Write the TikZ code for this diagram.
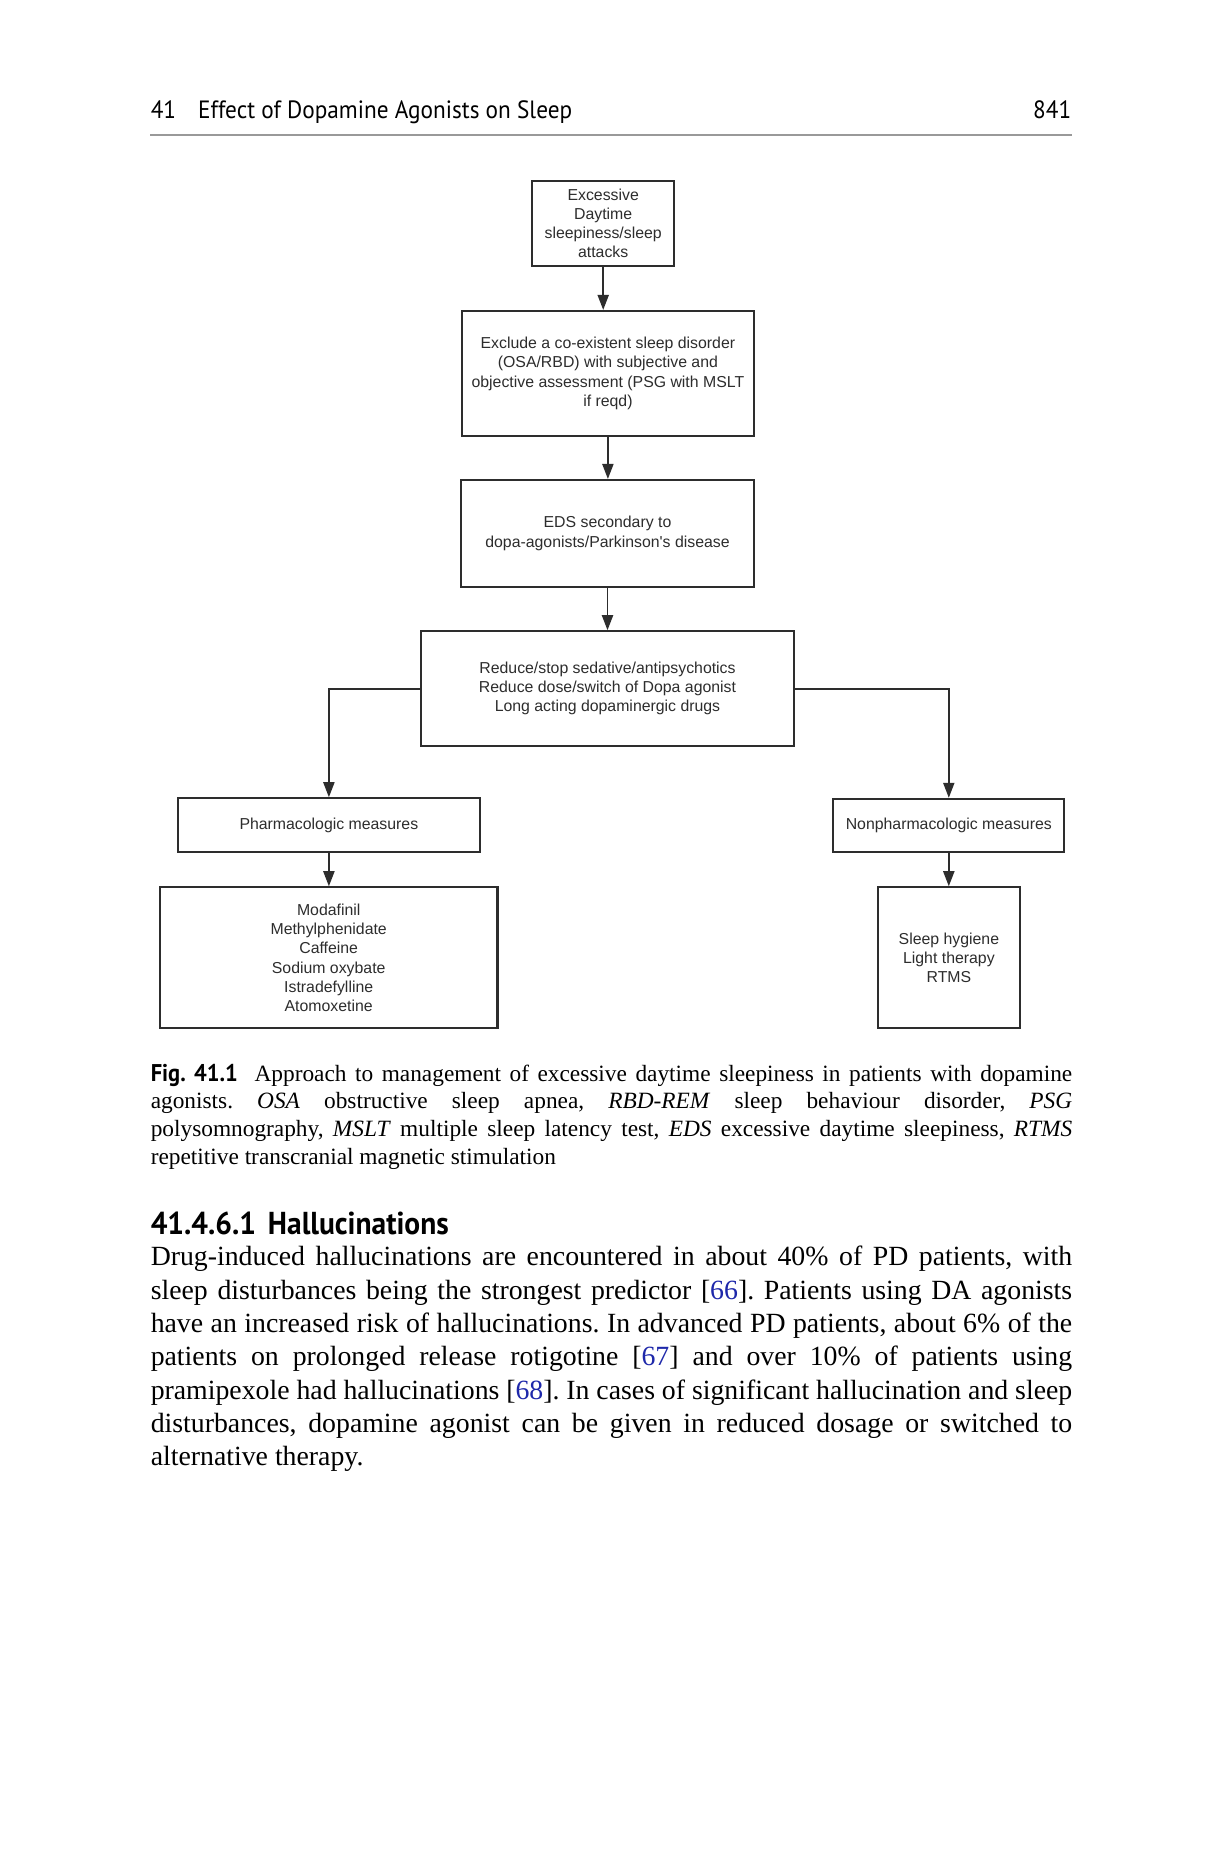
\documentclass[tikz,border=0pt]{standalone}
\usepackage{fontspec}
\setmainfont{Liberation Serif}
\newfontfamily\chartfont{Liberation Sans}
\newfontfamily\pagefont{PT Sans}[FakeStretch=0.93]
\usetikzlibrary{arrows.meta}
\definecolor{linkblue}{RGB}{30,40,170}
\definecolor{boxgray}{RGB}{45,45,45}
\frenchspacing

\begin{document}
\begin{tikzpicture}[x=0.35985pt,y=-0.35985pt]
\tikzstyle{every node}+=[inner sep=0pt]
\tikzstyle{box}=[draw=boxgray,line width=0.8pt,text=boxgray,align=center,font=\chartfont\fontsize{5.7}{6.9}\selectfont]
\tikzstyle{link}=[draw=boxgray,line width=0.6pt,-{Triangle[length=5.4pt,width=4pt]}]
\tikzstyle{para}=[anchor=base west,text width=331.6pt,align=justify]
\useasboundingbox[fill=white] (0,0) rectangle (1221,1851);
% running head
\node[anchor=base west,font=\pagefont\fontsize{9}{11}\selectfont] (chap) at (150.2,118.3) {41};
\node[anchor=base west,font=\pagefont\fontsize{9}{11}\selectfont] (runhead) at (197.6,118.3) {Effect of Dopamine Agonists on Sleep};
\node[anchor=base east,font=\pagefont\fontsize{9}{11}\selectfont] (pageno) at (1071.8,118.3) {841};
\draw[black!40,line width=1pt] (150.2,134.9) -- (1071.8,134.9);
% flow chart
\node[box,minimum width=51pt,minimum height=30.6pt] (eds) at (603.2,223.5) {Excessive\\Daytime\\sleepiness/sleep\\attacks};
\node[box,minimum width=105.2pt,minimum height=44.9pt] (exclude) at (607.9,373.4) {Exclude a co-existent sleep disorder\\(OSA/RBD) with subjective and\\objective assessment (PSG with MSLT\\if reqd)};
\node[box,minimum width=105.4pt,minimum height=38.4pt] (secondary) at (607.5,533.4) {EDS secondary to\\dopa-agonists/Parkinson's disease};
\node[box,minimum width=134.2pt,minimum height=41.3pt] (reduce) at (607.5,688.7) {Reduce/stop sedative/antipsychotics\\Reduce dose/switch of Dopa agonist\\Long acting dopaminergic drugs};
\node[box,minimum width=108.8pt,minimum height=19.2pt] (pharm) at (328.9,825) {Pharmacologic measures};
\node[box,minimum width=83.1pt,minimum height=19pt] (nonpharm) at (948.8,825.3) {Nonpharmacologic measures};
\node[box,minimum width=121.4pt,minimum height=50.7pt] (drugs) at (328.7,957.8) {Modafinil\\Methylphenidate\\Caffeine\\Sodium oxybate\\Istradefylline\\Atomoxetine};
\node[box,minimum width=51.2pt,minimum height=50.7pt] (hygiene) at (948.9,957.8) {Sleep hygiene\\Light therapy\\RTMS};
\draw[link] (eds.south) -- (eds.south |- exclude.north);
\draw[link] (exclude.south) -- (exclude.south |- secondary.north);
\draw[link] (secondary.south) -- (secondary.south |- reduce.north);
\draw[link] (reduce.west) -| (pharm.north);
\draw[link] (reduce.east) -| (nonpharm.north);
\draw[link] (pharm.south) -- (pharm.south |- drugs.north);
\draw[link] (nonpharm.south) -- (nonpharm.south |- hygiene.north);
% caption
\node[para,font=\fontsize{8.4}{9.96}\selectfont] (caption) at (150.2,1081) {\tolerance=9999\hyphenpenalty=10000\noindent
{\pagefont\bfseries\fontsize{8.7}{9.96}\selectfont Fig. 41.1}\hspace{6pt}Approach to management of excessive daytime sleepiness in patients with dopamine\linebreak
agonists. \textit{OSA} obstructive sleep apnea, \textit{RBD-REM} sleep behaviour disorder, \textit{PSG}\linebreak
polysomnography, \textit{MSLT} multiple sleep latency test, \textit{EDS} excessive daytime sleepiness, \textit{RTMS}\linebreak
repetitive transcranial magnetic stimulation};
% section text
\node[anchor=base west,font=\pagefont\bfseries\fontsize{11.4}{12}\selectfont] (section) at (150.2,1234) {41.4.6.1\hspace{4.3pt}Hallucinations};
\node[para,font=\fontsize{10}{12}\selectfont] (body) at (150.2,1265.8) {\tolerance=9999\hyphenpenalty=10000\noindent
Drug-induced hallucinations are encountered in about 40\% of PD patients, with\linebreak
sleep disturbances being the strongest predictor [\textcolor{linkblue}{66}]. Patients using DA agonists\linebreak
have an increased risk of hallucinations. In advanced PD patients, about 6\% of the\linebreak
patients on prolonged release rotigotine [\textcolor{linkblue}{67}] and over 10\% of patients using\linebreak
pramipexole had hallucinations [\textcolor{linkblue}{68}]. In cases of significant hallucination and sleep\linebreak
disturbances, dopamine agonist can be given in reduced dosage or switched to\linebreak
alternative therapy.};
\end{tikzpicture}
\end{document}
